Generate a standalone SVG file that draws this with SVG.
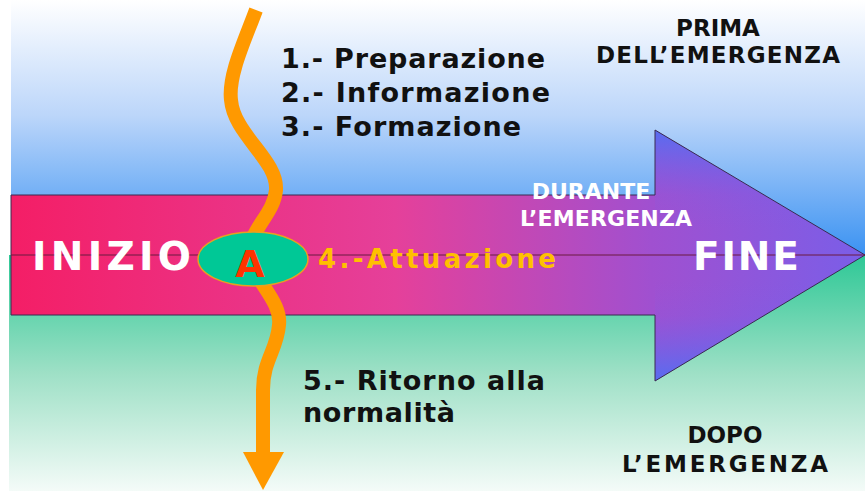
<svg xmlns="http://www.w3.org/2000/svg" width="865" height="491" viewBox="0 0 865 491">
<defs>
<linearGradient id="gTop" x1="0" y1="0" x2="0" y2="1">
<stop offset="0" stop-color="#ffffff"/>
<stop offset="0.45" stop-color="#bcd6fa"/>
<stop offset="1" stop-color="#3a92f2"/>
</linearGradient>
<linearGradient id="gBot" x1="0" y1="0" x2="0" y2="1">
<stop offset="0" stop-color="#2ec896"/>
<stop offset="0.5" stop-color="#9ee0c6"/>
<stop offset="1" stop-color="#f4fbf8"/>
</linearGradient>
<linearGradient id="gArrow" x1="11" y1="0" x2="865" y2="0" gradientUnits="userSpaceOnUse">
<stop offset="0" stop-color="#f41e66"/>
<stop offset="0.45" stop-color="#e5409a"/>
<stop offset="0.75" stop-color="#a050d0"/>
<stop offset="1" stop-color="#7a5ee8"/>
</linearGradient>
<linearGradient id="gHead" x1="0" y1="130" x2="0" y2="381" gradientUnits="userSpaceOnUse">
<stop offset="0" stop-color="#4a72f6" stop-opacity="0.85"/>
<stop offset="0.26" stop-color="#6a66ee" stop-opacity="0.12"/>
<stop offset="0.4" stop-color="#7a60e8" stop-opacity="0"/>
<stop offset="0.6" stop-color="#7a60e8" stop-opacity="0"/>
<stop offset="0.74" stop-color="#6a66ee" stop-opacity="0.12"/>
<stop offset="1" stop-color="#4a72f6" stop-opacity="0.85"/>
</linearGradient>
<style>
.t{font-family:"DejaVu Sans","Liberation Sans",sans-serif;font-weight:bold}
.blk{fill:#111111;font-size:27px}
.hd{fill:#111111;font-size:23px;text-anchor:middle}
.wh{fill:#ffffff}
</style>
</defs>
<rect x="0" y="0" width="865" height="491" fill="#ffffff"/>
<rect x="11" y="0" width="854" height="256" fill="url(#gTop)"/>
<rect x="9" y="255" width="856" height="236" fill="url(#gBot)"/>

<g id="arrow">
<path d="M11 195 L655 195 L655 130 L865 255 L655 381 L655 315 L11 315 Z" fill="url(#gArrow)"/>
<path d="M655 130 L865 255 L655 381 Z" fill="url(#gHead)"/>
<path d="M11 195 L655 195 L655 130 L865 255 L655 381 L655 315 L11 315 Z" fill="none" stroke="#3a2a50" stroke-width="1"/>
<line x1="11" y1="255" x2="865" y2="255" stroke="#6a1a40" stroke-width="1"/>
</g>

<g id="connectors">
<path d="M256 10 C245 40 228 75 231 100 C234 135 278 160 276 190 C274 215 248 230 250 255 C252 280 282 300 279 325 C277 350 263 360 263 390 L263 454" fill="none" stroke="#ff9900" stroke-width="14"/>
<polygon points="243,452 284,452 263,490" fill="#ff9900"/>
</g>

<g id="nodeA">
<ellipse cx="253" cy="259" rx="55" ry="27" fill="#00c896" stroke="#e8a020" stroke-width="1.5"/>
<text class="t" x="250" y="277" font-size="38" fill="#ff3300" text-anchor="middle">A</text>
</g>

<g id="inizio"><text class="t wh" x="32" y="270" font-size="39" letter-spacing="4" textLength="163">INIZIO</text></g>
<g id="fine"><text class="t wh" x="693" y="270" font-size="39" letter-spacing="4" textLength="110">FINE</text></g>
<g id="attuazione"><text class="t" x="318" y="268" font-size="26" fill="#ffc000" textLength="238">4.-Attuazione</text></g>

<g id="prima">
<text class="t blk" x="281" y="68" textLength="264">1.- Preparazione</text>
<text class="t blk" x="281" y="102" textLength="269">2.- Informazione</text>
<text class="t blk" x="281" y="136" textLength="240">3.- Formazione</text>
</g>

<g id="prima-label">
<text class="t hd" x="718" y="36">PRIMA</text>
<text class="t hd" x="718" y="63" textLength="244">DELL’EMERGENZA</text>
</g>

<g id="durante-label">
<text class="t wh" x="591" y="199" font-size="22" text-anchor="middle">DURANTE</text>
<text class="t wh" x="606" y="226" font-size="22" text-anchor="middle" textLength="172">L’EMERGENZA</text>
</g>

<g id="ritorno">
<text class="t blk" x="303" y="390" textLength="242">5.- Ritorno alla</text>
<text class="t blk" x="303" y="422" textLength="152">normalità</text>
</g>

<g id="dopo-label">
<text class="t hd" x="725" y="443">DOPO</text>
<text class="t hd" x="725" y="472" textLength="206">L’EMERGENZA</text>
</g>
</svg>
